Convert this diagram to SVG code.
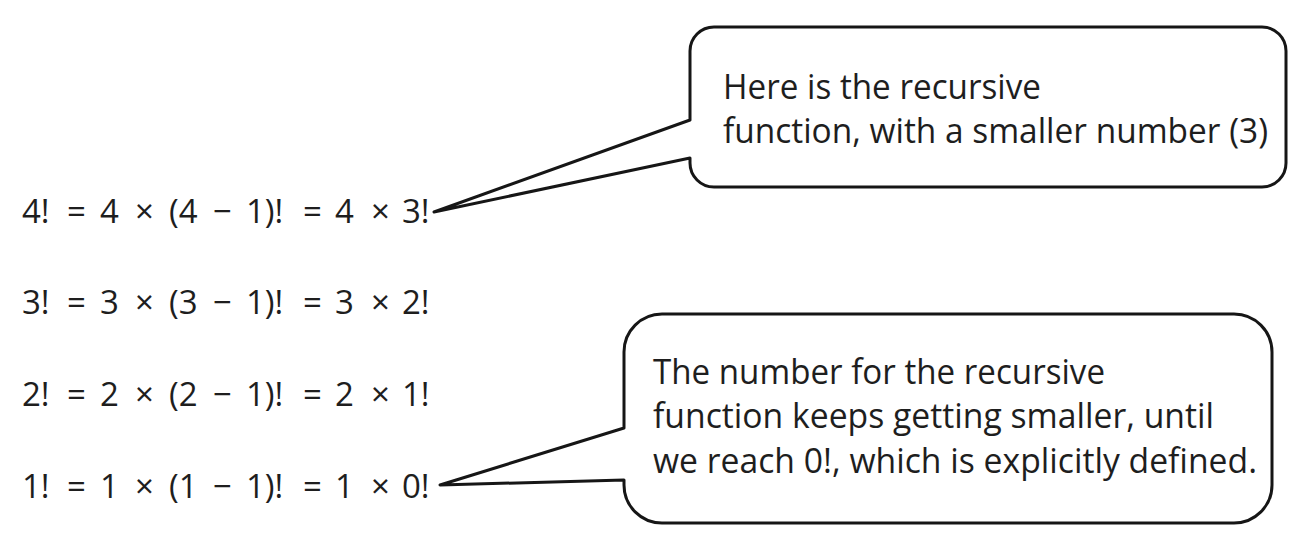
<svg xmlns="http://www.w3.org/2000/svg" width="1306" height="550" viewBox="0 0 1306 550">
<style>
.eq{font-family:"Open Sans","Noto Sans","Liberation Sans",sans-serif;font-size:33px;fill:#1e1e1e}
.co{font-family:"Open Sans","Noto Sans","Liberation Sans",sans-serif;font-size:34px;fill:#1e1e1e}
.bubble{fill:#ffffff;stroke:#161616;stroke-width:3;stroke-linejoin:round}
</style>
<rect width="1306" height="550" fill="#ffffff"/>
<g id="eq4">
<text class="eq" y="223"><tspan x="22">4!</tspan><tspan x="67">=</tspan><tspan x="100">4</tspan><tspan x="135">×</tspan><tspan x="169">(4</tspan><tspan x="213">−</tspan><tspan x="246">1)!</tspan><tspan x="303">=</tspan><tspan x="335">4</tspan><tspan x="371">×</tspan><tspan x="402">3!</tspan></text>
</g>
<g id="eq3">
<text class="eq" y="314"><tspan x="22">3!</tspan><tspan x="67">=</tspan><tspan x="100">3</tspan><tspan x="135">×</tspan><tspan x="169">(3</tspan><tspan x="213">−</tspan><tspan x="246">1)!</tspan><tspan x="303">=</tspan><tspan x="335">3</tspan><tspan x="371">×</tspan><tspan x="402">2!</tspan></text>
</g>
<g id="eq2">
<text class="eq" y="406"><tspan x="22">2!</tspan><tspan x="67">=</tspan><tspan x="100">2</tspan><tspan x="135">×</tspan><tspan x="169">(2</tspan><tspan x="213">−</tspan><tspan x="246">1)!</tspan><tspan x="303">=</tspan><tspan x="335">2</tspan><tspan x="371">×</tspan><tspan x="402">1!</tspan></text>
</g>
<g id="eq1">
<text class="eq" y="498"><tspan x="22">1!</tspan><tspan x="67">=</tspan><tspan x="100">1</tspan><tspan x="135">×</tspan><tspan x="169">(1</tspan><tspan x="213">−</tspan><tspan x="246">1)!</tspan><tspan x="303">=</tspan><tspan x="335">1</tspan><tspan x="371">×</tspan><tspan x="402">0!</tspan></text>
</g>
<g id="connectors">
<path id="callout1-shape" class="bubble" d="M714 27 H1262 A24 24 0 0 1 1286 51 V163 A24 24 0 0 1 1262 187 H714 A24 24 0 0 1 690 163 V158 L434 212 L690 120 V51 A24 24 0 0 1 714 27 Z"/>
<path id="callout2-shape" class="bubble" d="M662 314 H1234 A38 38 0 0 1 1272 352 V485 A38 38 0 0 1 1234 523 H662 A38 38 0 0 1 624 485 V480 L440 485 L624 428 V352 A38 38 0 0 1 662 314 Z"/>
</g>
<g id="callout1">
<text class="co" x="723" y="99" textLength="318" lengthAdjust="spacingAndGlyphs">Here is the recursive</text>
<text class="co" x="723" y="143" textLength="545" lengthAdjust="spacingAndGlyphs">function, with a smaller number (3)</text>
</g>
<g id="callout2">
<text class="co" x="653" y="384" textLength="452" lengthAdjust="spacingAndGlyphs">The number for the recursive</text>
<text class="co" x="653" y="428" textLength="561" lengthAdjust="spacingAndGlyphs">function keeps getting smaller, until</text>
<text class="co" x="653" y="473" textLength="604" lengthAdjust="spacingAndGlyphs">we reach 0!, which is explicitly defined.</text>
</g>
</svg>
